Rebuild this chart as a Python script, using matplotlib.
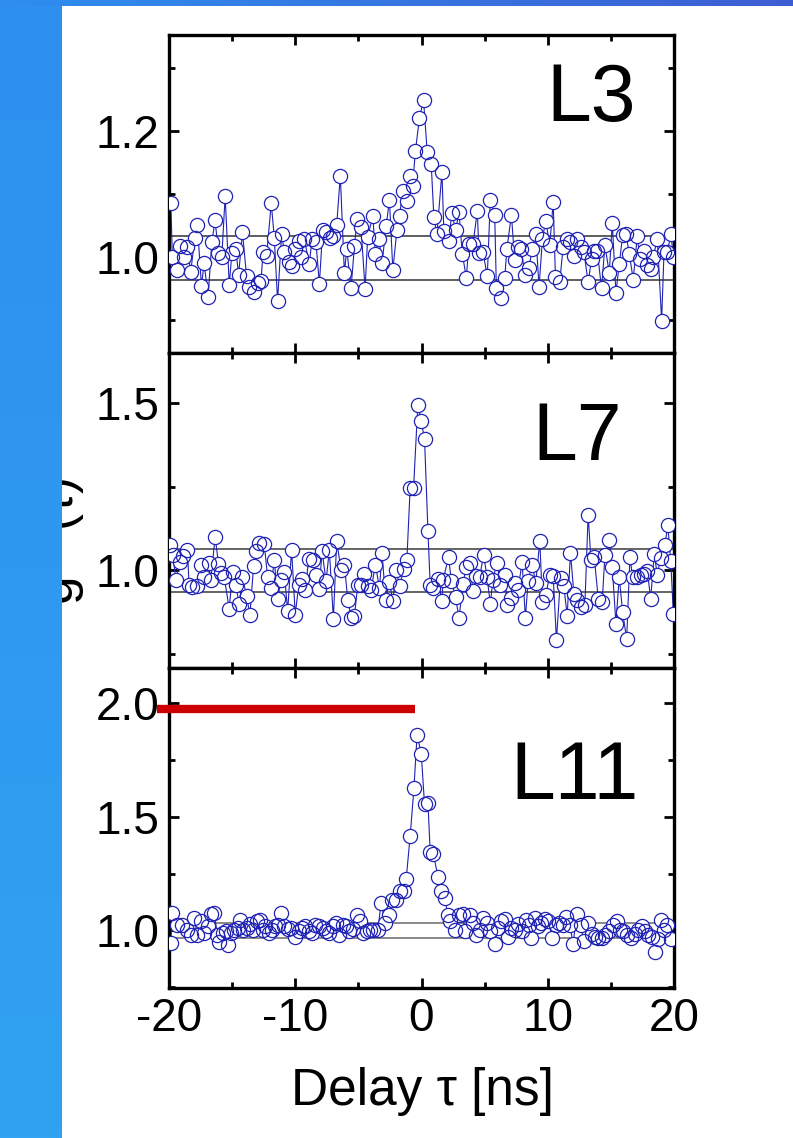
import numpy as np
import matplotlib
matplotlib.use("Agg")
import matplotlib.pyplot as plt
from matplotlib.ticker import MultipleLocator, FormatStrFormatter

plt.rcParams['font.family'] = ['Liberation Sans', 'DejaVu Sans']
plt.rcParams['mathtext.fontset'] = 'custom'
plt.rcParams['mathtext.rm'] = 'Liberation Sans'
plt.rcParams['mathtext.it'] = 'Liberation Sans:italic'

# ---------------- data: g2(tau) histograms for three lines ----------------
tau_L3 = [-19.86, -19.73, -19.34, -19.15, -18.81, -18.54, -18.28, -17.96, -17.75, -17.43,
          -17.22, -16.90, -16.61, -16.35, -16.08, -15.82, -15.55, -15.23, -15.02, -14.71,
          -14.49, -14.18, -13.86, -13.65, -13.30, -12.96, -12.72, -12.54, -12.27, -11.90,
          -11.66, -11.40, -11.08, -10.87, -10.47, -10.26, -10.00, -9.73, -9.55, -9.28,
          -8.89, -8.67, -8.36, -8.09, -7.83, -7.56, -7.25, -6.98, -6.72, -6.43,
          -6.11, -5.92, -5.58, -5.31, -5.10, -4.79, -4.47, -4.26, -3.86, -3.65,
          -3.38, -3.12, -2.80, -2.54, -2.27, -1.95, -1.74, -1.48, -1.17, -0.91,
          -0.71, -0.48, -0.16, 0.16, 0.45, 0.77, 0.98, 1.22, 1.62, 1.77,
          2.15, 2.41, 2.70, 2.97, 3.23, 3.55, 3.76, 4.08, 4.42, 4.55,
          4.87, 5.21, 5.45, 5.80, 5.93, 6.27, 6.59, 6.77, 7.12, 7.38,
          7.65, 7.91, 8.18, 8.52, 8.76, 9.05, 9.31, 9.58, 9.84, 10.16,
          10.43, 10.61, 10.95, 11.22, 11.54, 11.80, 12.09, 12.33, 12.60, 12.86,
          13.20, 13.47, 13.65, 13.92, 14.26, 14.53, 14.87, 15.11, 15.40, 15.66,
          15.93, 16.19, 16.46, 16.77, 17.09, 17.30, 17.62, 17.89, 18.15, 18.36,
          18.68, 19.02, 19.21, 19.47, 19.76, 19.95]
g2_L3 = [1.086, 1.000, 0.979, 1.018, 1.000, 1.015, 0.976, 1.030, 1.050, 0.954,
         0.990, 0.937, 1.023, 1.058, 1.006, 1.000, 1.097, 0.955, 1.006, 1.013,
         0.971, 1.039, 0.970, 0.952, 0.944, 0.959, 0.962, 1.008, 1.002, 1.085,
         1.030, 0.930, 1.037, 1.008, 0.992, 0.986, 1.012, 1.025, 1.000, 1.028,
         0.989, 1.028, 1.023, 0.957, 1.042, 1.040, 1.030, 1.033, 1.050, 1.129,
         0.975, 1.012, 0.951, 1.017, 1.060, 1.047, 0.949, 1.032, 1.065, 1.005,
         1.029, 0.991, 1.049, 1.090, 0.979, 1.042, 1.065, 1.105, 1.088, 1.129,
         1.113, 1.168, 1.221, 1.249, 1.167, 1.147, 1.063, 1.036, 1.134, 1.041,
         1.025, 1.070, 1.042, 1.071, 1.005, 0.967, 1.021, 1.020, 1.073, 1.006,
         1.008, 0.969, 1.090, 1.066, 0.950, 0.935, 0.967, 1.013, 1.067, 0.995,
         1.016, 1.012, 0.972, 0.983, 1.012, 1.037, 0.952, 1.029, 1.057, 1.019,
         1.087, 0.968, 0.960, 1.016, 1.029, 1.024, 1.001, 1.028, 1.016, 1.008,
         0.960, 0.996, 1.010, 1.010, 0.950, 1.019, 0.974, 1.054, 0.943, 0.988,
         1.034, 1.036, 1.005, 0.964, 1.033, 0.996, 1.010, 0.987, 0.980, 1.000,
         1.029, 0.899, 1.008, 1.008, 1.036, 1.000]

tau_L7 = [-19.92, -19.68, -19.47, -19.15, -18.89, -18.54, -18.41, -18.14, -17.75, -17.48,
          -17.22, -16.87, -16.69, -16.35, -16.08, -15.90, -15.63, -15.23, -14.97, -14.71,
          -14.44, -14.18, -13.86, -13.59, -13.30, -13.07, -12.85, -12.46, -12.19, -11.93,
          -11.66, -11.40, -11.13, -10.87, -10.60, -10.29, -10.00, -9.73, -9.47, -9.20,
          -8.94, -8.62, -8.36, -8.09, -7.88, -7.56, -7.30, -6.98, -6.72, -6.37,
          -6.11, -5.84, -5.58, -5.31, -5.05, -4.79, -4.52, -4.26, -3.99, -3.65,
          -3.33, -3.12, -2.85, -2.54, -2.27, -2.01, -1.74, -1.40, -1.16, -0.90,
          -0.63, -0.29, -0.02, 0.24, 0.51, 0.69, 0.95, 1.30, 1.62, 1.70,
          2.15, 2.36, 2.70, 2.97, 3.28, 3.55, 3.81, 4.08, 4.34, 4.61,
          4.92, 5.19, 5.45, 5.66, 5.98, 6.25, 6.59, 6.80, 7.07, 7.38,
          7.65, 7.97, 8.23, 8.44, 8.76, 9.05, 9.37, 9.58, 9.84, 10.16,
          10.43, 10.69, 11.01, 11.27, 11.54, 11.80, 12.07, 12.33, 12.60, 12.94,
          13.20, 13.42, 13.68, 14.00, 14.31, 14.53, 14.87, 15.11, 15.40, 15.66,
          15.93, 16.25, 16.51, 16.72, 17.04, 17.36, 17.62, 17.89, 18.15, 18.44,
          18.68, 18.94, 19.29, 19.50, 19.74, 19.95]
g2_L7 = [1.075, 1.045, 0.972, 1.025, 1.042, 1.062, 0.955, 0.950, 0.952, 1.017,
         0.980, 1.022, 0.970, 1.100, 1.020, 0.992, 0.980, 0.885, 0.995, 0.955,
         0.900, 0.980, 0.923, 0.867, 1.013, 1.057, 1.082, 1.080, 0.980, 0.948,
         1.030, 0.915, 0.970, 0.995, 0.877, 1.062, 0.867, 0.955, 0.975, 0.940,
         1.033, 1.030, 0.985, 0.945, 1.057, 0.968, 1.060, 0.854, 1.087, 1.002,
         1.017, 0.912, 0.858, 0.864, 0.955, 0.955, 0.990, 0.953, 0.942, 1.017,
         0.947, 1.052, 0.912, 0.965, 0.908, 1.000, 0.953, 1.003, 1.030, 1.246,
         1.246, 1.496, 1.446, 1.394, 1.118, 0.955, 0.948, 0.975, 0.907, 0.970,
         1.040, 0.967, 0.920, 0.856, 0.960, 1.010, 1.023, 0.937, 0.982, 0.980,
         1.047, 0.980, 0.900, 0.972, 1.023, 0.955, 0.985, 0.897, 0.918, 0.963,
         0.942, 1.025, 0.856, 0.967, 1.017, 0.963, 1.087, 0.905, 0.925, 0.985,
         0.982, 0.791, 0.978, 0.953, 0.864, 1.053, 0.928, 0.912, 0.890, 0.895,
         1.167, 1.032, 1.040, 0.915, 0.905, 1.045, 1.092, 1.010, 0.840, 0.980,
         0.875, 0.793, 1.040, 0.980, 0.980, 0.987, 0.990, 0.997, 0.915, 1.048,
         0.985, 1.038, 1.075, 1.137, 1.028, 0.870]

tau_L11 = [-19.86, -19.73, -19.34, -18.94, -18.54, -18.28, -18.01, -17.75, -17.48, -17.22,
           -16.95, -16.69, -16.42, -16.16, -16.03, -15.76, -15.50, -15.29, -15.10, -14.84,
           -14.57, -14.39, -14.12, -13.86, -13.59, -13.33, -13.06, -12.80, -12.59, -12.38,
           -12.06, -11.85, -11.61, -11.40, -11.13, -10.87, -10.60, -10.34, -10.00, -9.73,
           -9.47, -9.20, -8.94, -8.67, -8.41, -8.14, -7.83, -7.56, -7.30, -7.03,
           -6.77, -6.50, -6.24, -5.97, -5.71, -5.45, -5.13, -4.86, -4.60, -4.33,
           -4.07, -3.81, -3.46, -3.20, -2.86, -2.59, -2.32, -2.01, -1.74, -1.40,
           -1.21, -0.90, -0.60, -0.35, -0.02, 0.24, 0.51, 0.69, 0.95, 1.30,
           1.56, 1.83, 2.09, 2.28, 2.62, 2.97, 3.28, 3.42, 3.81, 4.08,
           4.34, 4.61, 4.87, 5.19, 5.40, 5.80, 6.06, 6.33, 6.59, 6.85,
           7.12, 7.38, 7.65, 7.99, 8.26, 8.52, 8.71, 8.97, 9.24, 9.50,
           9.76, 10.03, 10.37, 10.64, 10.90, 11.17, 11.43, 11.75, 12.01, 12.28,
           12.60, 12.86, 13.20, 13.47, 13.73, 14.00, 14.26, 14.53, 14.84, 15.19,
           15.45, 15.72, 15.98, 16.30, 16.56, 16.91, 17.17, 17.44, 17.70, 17.97,
           18.23, 18.49, 18.76, 18.94, 19.21, 19.47, 19.74]
g2_L11 = [0.944, 1.077, 1.025, 1.025, 1.003, 0.981, 1.057, 0.978, 1.040, 0.988,
          1.020, 1.072, 1.077, 0.978, 0.951, 0.988, 0.996, 0.937, 0.988, 1.003,
          1.010, 1.047, 1.003, 1.010, 1.028, 1.003, 1.040, 1.047, 1.003, 1.018,
          0.988, 1.003, 1.018, 1.025, 1.077, 1.018, 1.007, 1.010, 0.973, 0.996,
          1.010, 1.020, 0.996, 0.988, 1.025, 1.018, 1.010, 0.996, 0.988, 1.020,
          1.032, 0.981, 1.025, 1.018, 0.999, 1.006, 1.069, 1.040, 0.988, 0.996,
          1.000, 1.003, 1.000, 1.121, 1.032, 1.069, 1.135, 1.133, 1.172, 1.172,
          1.228, 1.415, 1.626, 1.861, 1.779, 1.555, 1.562, 1.346, 1.337, 1.236,
          1.172, 1.143, 1.069, 1.040, 1.003, 1.069, 1.072, 0.999, 1.069, 1.032,
          0.981, 1.003, 1.054, 1.032, 0.996, 0.940, 1.010, 1.040, 1.052, 0.973,
          1.010, 1.000, 1.028, 0.996, 1.047, 1.025, 0.969, 1.054, 1.018, 1.032,
          1.052, 1.040, 0.969, 1.025, 1.032, 1.025, 1.059, 1.025, 0.940, 1.072,
          1.025, 0.954, 1.032, 0.984, 0.973, 0.966, 0.966, 0.978, 0.996, 1.025,
          1.040, 1.003, 0.996, 0.978, 0.969, 0.984, 1.003, 1.018, 0.996, 0.981,
          0.973, 0.904, 0.963, 1.047, 1.003, 1.025, 0.963]

panel_names = ["L3", "L7", "L11"]
band_L3 = (0.964, 1.033)
band_L7 = (0.936, 1.065)
band_L11 = (0.969, 1.035)
ylim_L3 = (0.848, 1.352)
ylim_L7 = (0.707, 1.652)
ylim_L11 = (0.748, 2.156)
yticks_L3 = [1.0, 1.2]
yticks_L7 = [1.0, 1.5]
yticks_L11 = [1.0, 1.5, 2.0]
yminor = [0.1, 0.25, 0.25]
bunching_level = 1.975          # red reference line in the L11 panel
bunching_span = (-20.95, -0.48)
xticks = [-20, -10, 0, 10, 20]

# ---------------- figure ----------------
W, H = 793, 1138
fig = plt.figure(figsize=(W / 100, H / 100), dpi=100)
fig.patch.set_facecolor("white")


def fx(px):
    return px / W


def fy(py):
    return 1 - py / H


x_left, x_right = 169, 674
panel_px = [(35, 352.7), (352.7, 668), (668, 987.7)]
series = [(tau_L3, g2_L3), (tau_L7, g2_L7), (tau_L11, g2_L11)]
bands = [band_L3, band_L7, band_L11]
ylims = [ylim_L3, ylim_L7, ylim_L11]
yticks = [yticks_L3, yticks_L7, yticks_L11]
band_colors = ["#333333", "#3a3a3a", "#6a6a6a"]
blue = "#1f22b4"

axes = []
for i, (top, bot) in enumerate(panel_px):
    ax = fig.add_axes([fx(x_left), fy(bot), fx(x_right) - fx(x_left), (bot - top) / H])
    tau, g2 = series[i]
    for lvl in bands[i]:
        ax.axhline(lvl, color=band_colors[i], lw=1.1, zorder=1)
    ax.plot(tau, g2, color=blue, lw=0.8, zorder=2)
    ax.plot(tau, g2, ls="none", marker="o", ms=10.2, mfc="white", mec="none", zorder=3)
    ax.plot(tau, g2, ls="none", marker="o", ms=10.2, mfc="none", mec=blue, mew=0.9, zorder=4)
    ax.set_xlim(-20, 20)
    ax.set_ylim(*ylims[i])
    ax.set_xticks(xticks)
    ax.xaxis.set_minor_locator(MultipleLocator(5))
    ax.set_yticks(yticks[i])
    ax.yaxis.set_minor_locator(MultipleLocator(yminor[i]))
    ax.yaxis.set_major_formatter(FormatStrFormatter("%.1f"))
    ax.tick_params(which="both", direction="in", top=True, right=True, width=2.0,
                   labelsize=33, pad=7)
    ax.tick_params(which="major", length=7)
    ax.tick_params(which="minor", length=4)
    for sp in ax.spines.values():
        sp.set_linewidth(2.4)
    if i < 2:
        ax.tick_params(labelbottom=False)
    axes.append(ax)

axes[2].set_xticklabels([str(t) for t in xticks])
axes[2].plot(bunching_span, [bunching_level] * 2, color="#cc0000", lw=6,
             solid_capstyle="butt", clip_on=False, zorder=6)

# panel names
fig.text(fx(546.8), fy(121), panel_names[0], fontsize=58, ha="left", va="baseline")
fig.text(fx(532.4), fy(460), panel_names[1], fontsize=58, ha="left", va="baseline")
fig.text(fx(510), fy(799), panel_names[2], fontsize=58, ha="left", va="baseline")

# axis titles
fig.text(fx(422), fy(1105), "Delay τ [ns]", fontsize=37, ha="center", va="baseline")
fig.text(fx(74), fy(541), r"g$^{\mathrm{(2)}}$(τ)", fontsize=37, rotation=90,
         rotation_mode="anchor", ha="center", va="baseline")

# slide frame: left band and gradient strip along the top
left_ax = fig.add_axes([0, 0, fx(62), 1], zorder=20)
l0 = np.array([0x2d, 0x8f, 0xee]) / 255
l1 = np.array([0x31, 0xa2, 0xf2]) / 255
s = np.linspace(0, 1, 256)[:, None, None]
left_ax.imshow(l0 + (l1 - l0) * s, aspect="auto", extent=[0, 1, 0, 1], origin="upper")
left_ax.axis("off")

top_ax = fig.add_axes([0, fy(6), 1, 6 / H], zorder=21)
c0 = np.array([0x2e, 0x8e, 0xf0]) / 255
c1 = np.array([0x3d, 0x5e, 0xd2]) / 255
t = np.linspace(0, 1, 256)[None, :, None]
top_ax.imshow(c0 + (c1 - c0) * t, aspect="auto", extent=[0, 1, 0, 1])
top_ax.axis("off")

fig.savefig("out.png", dpi=100)
